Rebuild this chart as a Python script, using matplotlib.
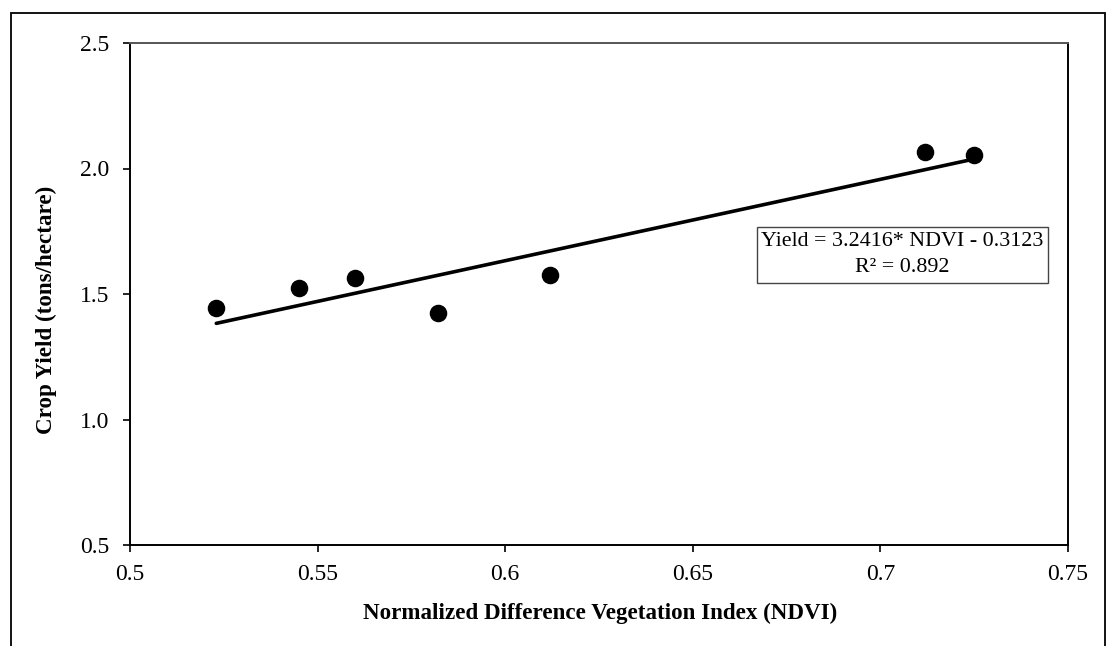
import matplotlib
matplotlib.use("Agg")
import matplotlib.pyplot as plt
from matplotlib.patches import Rectangle
import numpy as np

# Data
ndvi = [0.523, 0.545, 0.560, 0.582, 0.612, 0.712, 0.725]
yield_t = [1.445, 1.525, 1.565, 1.425, 1.575, 2.065, 2.055]
slope = 3.2416
intercept = -0.3123
r2 = 0.892
x_ticks = [0.5, 0.55, 0.6, 0.65, 0.7, 0.75]
x_tick_labels = ["0.5", "0.55", "0.6", "0.65", "0.7", "0.75"]
y_ticks = [0.5, 1.0, 1.5, 2.0, 2.5]
y_tick_labels = ["0.5", "1.0", "1.5", "2.0", "2.5"]

plt.rcParams['font.family'] = ['Liberation Serif', 'DejaVu Serif']

W, H = 1106, 646
fig = plt.figure(figsize=(W / 100, H / 100), dpi=100)
ax = fig.add_axes([130 / W, 1 - 545 / H, (1068 - 130) / W, (545 - 43) / H])

ax.scatter(ndvi, yield_t, s=135, color='black', zorder=3)
xs = np.array([min(ndvi), max(ndvi)])
ax.plot(xs, slope * xs + intercept, color='black', lw=2.6, solid_capstyle='round', zorder=2)

ax.set_xlim(0.5, 0.75)
ax.set_ylim(0.5, 2.5)
ax.set_xticks(x_ticks)
ax.set_xticklabels(x_tick_labels)
ax.set_yticks(y_ticks)
ax.set_yticklabels(y_tick_labels)
ax.tick_params(direction='out', length=5, width=1.2, labelsize=17, colors='black')
ax.tick_params(axis='y', pad=10)
ax.tick_params(axis='x', pad=9)
for sp in ax.spines.values():
    sp.set_linewidth(1.4)
    sp.set_color('black')
ax.spines['top'].set_color('#555555')

fig.text(600 / W, 1 - 613 / H, "Normalized Difference Vegetation Index (NDVI)",
         ha='center', va='center', fontsize=16.6, fontweight='bold')
fig.text(46 / W, 1 - 310 / H, "Crop Yield (tons/hectare)", rotation=90,
         ha='center', va='center', fontsize=16.6, fontweight='bold')

# Equation box
bx0, bx1, by0, by1 = 757, 1048, 227, 283
fig.patches.append(Rectangle((bx0 / W, 1 - by1 / H), (bx1 - bx0) / W, (by1 - by0) / H,
                             transform=fig.transFigure, fill=False, edgecolor='#444444', lw=1.0))
fig.text((bx0 + bx1) / 2 / W, 1 - 242 / H, f"Yield = {slope}* NDVI - {abs(intercept)}",
         ha='center', va='center', fontsize=15.8)
fig.text((bx0 + bx1) / 2 / W, 1 - 267 / H, f"R² = {r2}",
         ha='center', va='center', fontsize=15.8)

# Outer border
fig.patches.append(Rectangle((11 / W, -0.2), (1105 - 11) / W, 1.2 - 13 / H,
                             transform=fig.transFigure, fill=False, edgecolor='black', lw=1.3))

fig.savefig("out.png", dpi=100)
